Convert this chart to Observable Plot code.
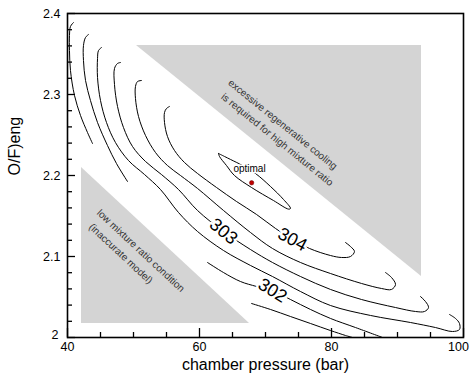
<!DOCTYPE html>
<html><head><meta charset="utf-8">
<script src="https://cdn.jsdelivr.net/npm/d3@7"></script>
<script src="https://cdn.jsdelivr.net/npm/@observablehq/plot@0.6"></script>
<style>
html,body{margin:0;padding:0;background:#fff;}
#chart{width:472px;height:379px;}
svg{font-family:"Liberation Sans",Arial,sans-serif;}
</style></head>
<body><div id="chart"></div>
<script>
// axis ticks
const xMajorTicks = [40, 60, 80];
const xLastTick = [100];
const xMajorTickMarks = [40, 60, 80, 100];
const xMinorTicks = [45, 50, 55, 65, 70, 75, 85, 90, 95];
const yMajorTicks = [2.1, 2.2, 2.3, 2.4];
const yMajorLabels = ["2.1", "2.2", "2.3", "2.4"];
const yFirstTick = [2];
const yFirstLabel = ["2"];
const yMajorTickMarks = [2, 2.1, 2.2, 2.3, 2.4];
const yMinorTicks = [2.02, 2.04, 2.06, 2.08, 2.12, 2.14, 2.16, 2.18, 2.22, 2.24, 2.26, 2.28, 2.32, 2.34, 2.36, 2.38];
const xTitle = "chamber pressure (bar)";
const yTitle = "O/F)eng";

// excluded regions (chamber pressure, O/F)
const upperRegionX = [50.45, 93.64];
const upperRegionLow = [2.3605, 2.0753];
const upperRegionHigh = [2.3605, 2.3605];
const lowerRegionX = [42.12, 67.58];
const lowerRegionLow = [2.0173, 2.0173];
const lowerRegionHigh = [2.2099, 2.0173];

// contour lines: [pressure, O/F]
const cInner = [[62.88,2.2272],[63.79,2.2235],[64.70,2.2198],[66.52,2.2123],[68.48,2.2025],[70.76,2.1864],[72.73,2.1704],[73.79,2.1593],[73.5,2.1585],[71.21,2.1691],[67.88,2.1852],[65.30,2.2000],[64.09,2.2123],[63.03,2.2235],[62.88,2.2272]];
const c304 = [[55.45,2.2852],[55.0,2.2827],[54.70,2.2778],[54.70,2.2654],[55.15,2.2481],[56.21,2.2309],[57.73,2.2160],[59.70,2.2025],[62.58,2.1852],[65.61,2.1679],[68.64,2.1519],[71.52,2.1346],[74.09,2.1210],[76.67,2.1099],[79.85,2.1012],[81.52,2.0988],[82.88,2.1],[83.48,2.1062],[82.88,2.1123],[82.12,2.1173]];
const c3035 = [[51.21,2.3173],[50.61,2.3160],[50.30,2.3099],[50.30,2.2951],[50.76,2.2728],[51.82,2.2494],[53.33,2.2284],[55.15,2.2123],[57.12,2.2],[59.70,2.1840],[63.64,2.1568],[67.73,2.1296],[71.06,2.1099],[75.30,2.0926],[79.85,2.0790],[84.55,2.0667],[87.58,2.0605],[89.09,2.0593],[89.70,2.0654],[89.09,2.0741],[88.18,2.0802]];
const c303 = [[48.03,2.3395],[47.58,2.3383],[47.12,2.3321],[47.12,2.3123],[47.58,2.2852],[48.48,2.2593],[49.85,2.2358],[51.82,2.2173],[54.24,2.2012],[56.82,2.1827],[59.70,2.1568],[63.64,2.1309],[67.73,2.1086],[71.06,2.0926],[75.30,2.0753],[79.85,2.0593],[84.55,2.0469],[89.70,2.0370],[92.73,2.0321],[94.09,2.0321],[94.70,2.0370],[94.24,2.0444],[93.48,2.0506]];
const c3025 = [[45.15,2.3580],[44.70,2.3543],[44.55,2.3444],[44.55,2.3210],[45.0,2.2926],[45.91,2.2654],[47.27,2.2407],[49.24,2.2185],[51.67,2.2012],[54.09,2.1827],[56.82,2.1543],[59.70,2.1309],[63.64,2.1074],[67.73,2.0889],[71.06,2.0753],[75.30,2.0568],[79.85,2.0395],[85.91,2.0272],[91.97,2.0185],[95.76,2.0123],[98.33,2.0074],[99.39,2.0099],[99.39,2.0173],[98.79,2.0235],[97.88,2.0284]];
const c302a = [[43.18,2.3741],[42.73,2.3704],[42.42,2.3605],[42.42,2.3420],[42.73,2.3173],[43.48,2.2926],[44.55,2.2654],[46.06,2.2370],[47.42,2.2148],[49.09,2.1926]];
const c302b = [[61.21,2.0926],[63.64,2.0802],[66.21,2.0691],[68.64,2.0630],[71.06,2.0580],[73.79,2.0469],[76.82,2.0346],[79.85,2.0235],[83.64,2.0123],[87.73,2.0]];
const c3015a = [[40.91,2.3889],[40.45,2.3840],[40.30,2.3728],[40.30,2.3543],[40.45,2.3296],[41.06,2.2988],[41.97,2.2741],[43.03,2.2531],[43.79,2.2395]];
const c3015b = [[67.88,2.0420],[70.76,2.0346],[73.79,2.0259],[76.82,2.0173],[79.85,2.0086],[82.12,2.0025],[83.18,2.0]];

// contour labels: [pressure, O/F, text, angle]
const contourLabels = [[63.64,2.1309,"303",40],[74.09,2.1210,"304",28],[71.06,2.0580,"302",32]];
const optimalPoint = [[67.9, 2.191]];
const optimalLabel = [[67.58, 2.2086, "optimal"]];
const regionTexts = [
  [64.55, 2.3160, "excessive regenerative cooling", 39],
  [63.48, 2.2988, "is required for high mixture ratio", 39],
  [44.70, 2.1556, "low mixture ratio condition", 43],
  [43.48, 2.1383, "(inaccurate model)", 43]
];

const contours = [cInner, c304, c3035, c303, c3025, c302a, c302b, c3015a, c3015b];
const lineData = contours.flatMap((c, i) => c.map(([x, y]) => ({x, y, id: i})));

const W = 472, H = 379, ML = 67, MR = 9, MT = 13, MB = 42;
const innerW = W - ML - MR, innerH = H - MT - MB;

const chart = Plot.plot({
  width: W, height: H,
  marginLeft: ML, marginRight: MR, marginTop: MT, marginBottom: MB,
  style: {fontFamily: '"Liberation Sans", Arial, sans-serif', background: "#fff"},
  x: {domain: [40, 100]},
  y: {domain: [2, 2.4]},
  marks: [
    Plot.areaY({length: 2}, {x: upperRegionX, y1: upperRegionLow, y2: upperRegionHigh, fill: "#d4d4d4"}),
    Plot.areaY({length: 2}, {x: lowerRegionX, y1: lowerRegionLow, y2: lowerRegionHigh, fill: "#d4d4d4"}),
    Plot.text(regionTexts, {x: d => d[0], y: d => d[1], text: d => d[2], rotate: d => d[3], textAnchor: "start", fontSize: 10, fill: "#333"}),
    Plot.line(lineData, {x: "x", y: "y", z: "id", stroke: "#000", strokeWidth: 1, curve: "catmull-rom"}),
    Plot.text(contourLabels, {x: d => d[0], y: d => d[1], text: d => d[2], rotate: d => d[3], fontSize: 18, fill: "#000", stroke: "#fff", strokeWidth: 5}),
    Plot.text(optimalLabel, {x: d => d[0], y: d => d[1], text: d => d[2], fontSize: 10, fill: "#000", stroke: "#fff", strokeWidth: 3}),
    Plot.dot(optimalPoint, {x: d => d[0], y: d => d[1], r: 2.2, fill: "#c00000", stroke: "#600", strokeWidth: 0.5}),
    Plot.frame({stroke: "#000", strokeWidth: 1.6}),
    // inward tick marks
    Plot.ruleX(xMajorTickMarks, {x: d => d, insetTop: innerH - 9, stroke: "#000", strokeWidth: 1.3}),
    Plot.ruleX(xMinorTicks, {x: d => d, insetTop: innerH - 5, stroke: "#000", strokeWidth: 1.3}),
    Plot.ruleY(yMajorTickMarks, {y: d => d, insetRight: innerW - 8, stroke: "#000", strokeWidth: 1.3}),
    Plot.ruleY(yMinorTicks, {y: d => d, insetRight: innerW - 5, stroke: "#000", strokeWidth: 1.3}),
    // tick labels
    Plot.axisX({ticks: xMajorTicks, tickFormat: d => String(d), tickSize: 0, tickPadding: 5, fontSize: 12.5, label: null}),
    Plot.axisX({ticks: xLastTick, tickFormat: d => String(d), tickSize: 0, tickPadding: 5, fontSize: 12.5, label: null, dx: -5}),
    Plot.axisY({ticks: yMajorTicks, tickFormat: (d, i) => yMajorLabels[i], tickSize: 0, tickPadding: 7, fontSize: 12.5, label: null}),
    Plot.axisY({ticks: yFirstTick, tickFormat: (d, i) => yFirstLabel[i], tickSize: 0, tickPadding: 9, fontSize: 12.5, label: null, dy: -3}),
    // axis titles
    Plot.text([xTitle], {text: d => d, frameAnchor: "bottom", dy: 32, fontSize: 16, fill: "#000"}),
    Plot.text([yTitle], {text: d => d, frameAnchor: "left", dx: -53, rotate: -90, fontSize: 16, fill: "#000"})
  ]
});
document.getElementById("chart").appendChild(chart);
</script></body></html>
